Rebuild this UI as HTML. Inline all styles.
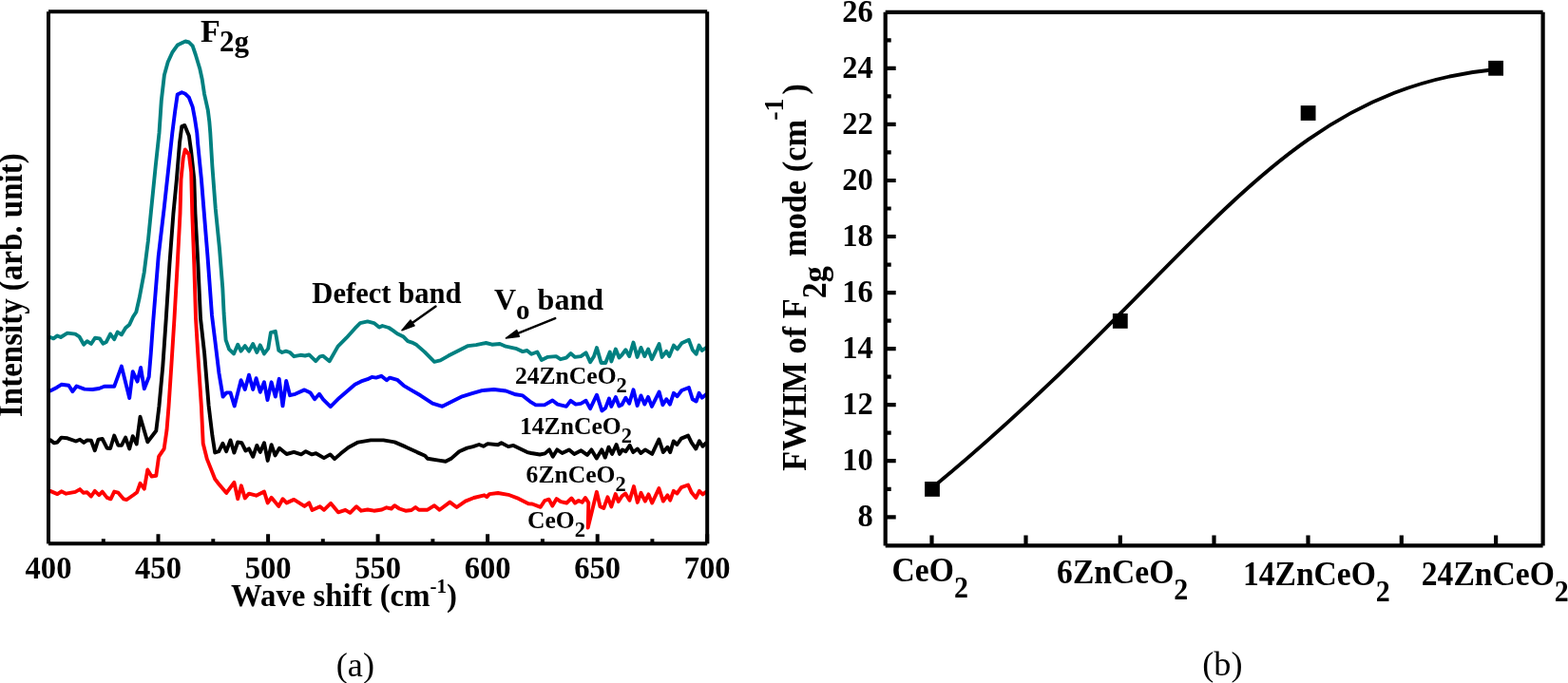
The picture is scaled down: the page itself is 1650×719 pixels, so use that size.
<!DOCTYPE html>
<html><head><meta charset="utf-8"><title>Raman spectra and FWHM</title>
<style>html,body{margin:0;padding:0;background:#fff;overflow:hidden}svg{display:block}</style>
</head><body>
<svg width="1650" height="719" viewBox="0 0 1650 719" font-family="'Liberation Serif','Times New Roman',serif">
<rect width="1650" height="719" fill="#fff"/>
<polyline points="51.0,355.5 52.8,355.0 56.3,356.4 60.4,353.4 63.9,355.0 70.9,350.6 79.2,351.6 83.4,354.3 88.2,362.7 91.7,359.2 95.9,362.0 100.1,355.7 104.9,356.4 108.4,361.7 111.9,359.9 116.1,351.6 120.2,357.1 123.7,349.5 127.9,352.3 132.1,345.3 136.2,341.8 140.0,333.5 143.3,328.5 146.7,313.5 151.7,286.8 155.9,253.4 159.0,222.0 163.7,175.1 167.5,140.0 169.8,106.0 172.9,79.0 176.7,65.2 181.3,55.2 186.7,47.6 191.3,45.3 195.1,43.5 198.9,44.5 202.7,48.4 205.8,57.5 210.4,72.8 212.7,83.5 215.0,98.8 218.8,116.0 220.3,127.9 221.3,140.0 223.4,175.1 226.8,220.0 231.0,261.7 234.3,303.5 235.6,330.0 237.6,357.8 241.1,367.6 246.0,372.4 250.2,362.7 253.6,369.6 257.8,364.1 262.0,369.6 266.2,362.0 270.3,371.0 273.8,363.4 278.0,372.4 282.2,366.9 284.9,350.2 289.8,348.8 293.3,368.9 296.8,371.0 300.9,369.6 305.1,371.0 309.3,375.2 316.2,373.8 321.1,374.5 325.3,373.4 332.2,380.2 336.7,375.3 340.0,374.7 346.7,380.2 355.6,364.6 364.5,355.7 373.5,345.7 379.0,340.1 386.8,338.4 393.5,340.1 399.1,344.6 402.4,343.0 409.1,345.0 413.5,347.9 418.0,351.3 424.7,354.6 429.1,359.1 433.6,360.6 438.4,363.1 446.7,370.4 457.1,380.8 463.4,379.4 471.8,374.6 482.2,369.3 492.6,364.1 501.0,363.1 511.4,361.0 517.7,362.7 526.0,362.0 532.3,364.7 542.7,366.8 550.0,370.1 554.6,369.0 559.2,372.8 565.3,370.5 569.9,379.0 576.0,375.9 585.2,375.1 589.8,378.2 595.9,376.7 600.5,372.1 605.1,375.9 611.2,375.1 616.6,371.3 621.1,381.3 625.0,375.1 628.0,366.0 632.6,382.0 637.2,382.0 641.8,370.5 643.3,380.5 647.9,367.5 651.5,376.5 654.5,373.5 658.4,368.2 662.2,375.1 666.5,360.6 670.6,375.9 674.5,365.9 678.3,375.1 682.1,367.5 685.9,378.2 693.6,362.1 696.6,375.9 701.2,369.8 704.3,375.1 708.9,363.6 712.7,367.5 717.3,361.3 724.9,357.8 728.7,368.2 732.6,372.8 735.6,363.6 738.7,369.0 743.3,365.9" fill="none" stroke="#008080" stroke-width="3.9" stroke-linejoin="round" stroke-linecap="round"/>
<polyline points="51.0,412.0 52.8,411.4 59.7,407.9 64.6,404.8 72.3,405.8 76.4,412.1 80.6,406.5 88.9,409.6 97.3,410.0 104.2,409.0 109.8,406.8 120.2,406.8 127.9,385.6 136.2,419.0 139.7,391.2 144.6,401.6 148.1,387.0 151.8,409.3 156.7,396.8 158.8,371.7 160.9,342.0 166.7,270.0 171.4,230.0 172.6,220.0 177.5,175.1 181.3,140.0 184.2,117.0 186.7,99.6 191.3,97.3 195.1,98.8 198.9,102.7 202.7,112.6 205.0,124.9 207.3,140.0 208.1,150.6 211.9,188.8 214.6,222.0 218.5,270.0 223.0,332.0 226.2,357.8 230.4,392.6 234.6,417.6 238.3,413.4 242.5,413.4 246.7,427.4 253.6,400.2 257.8,410.0 262.0,394.7 266.2,410.0 269.6,398.2 273.8,412.8 278.0,402.3 281.5,421.1 285.6,402.3 289.8,417.6 293.7,398.8 297.5,427.4 301.2,400.9 305.1,416.2 310.7,414.8 320.4,410.4 326.7,413.6 331.1,420.3 336.0,414.7 340.0,420.3 347.8,428.1 356.7,419.2 364.5,412.5 373.5,404.7 380.1,401.4 386.8,399.2 391.3,396.9 395.7,397.6 401.3,395.8 406.9,400.3 410.2,397.6 418.0,399.8 424.7,405.8 431.0,409.6 442.5,416.3 455.1,424.7 465.5,427.8 475.9,422.6 486.4,417.3 496.8,414.2 507.2,411.1 519.8,410.0 532.3,411.5 542.7,415.3 550.0,416.4 557.6,422.6 563.8,426.4 572.9,426.4 581.4,421.5 586.7,425.6 595.9,427.9 600.5,421.8 605.8,425.6 611.2,424.9 616.6,421.8 621.1,430.2 628.0,415.7 633.4,432.5 637.2,429.4 641.0,419.5 643.3,427.9 647.9,418.0 651.5,427.5 654.5,426.0 658.4,418.7 662.2,424.8 666.5,410.3 670.6,427.1 674.5,416.4 678.3,425.6 682.1,417.9 685.9,427.9 693.6,412.6 697.4,426.3 701.2,420.2 705.0,425.6 708.9,413.8 712.7,417.2 717.3,411.0 724.9,408.0 728.7,420.2 732.6,422.5 735.6,413.8 738.7,418.7 743.3,414.9" fill="none" stroke="#0000ff" stroke-width="3.9" stroke-linejoin="round" stroke-linecap="round"/>
<polyline points="51.0,463.5 52.8,463.1 57.0,466.4 60.4,465.5 64.6,460.6 70.9,461.3 79.9,464.5 84.1,462.7 88.2,465.9 91.7,463.4 95.9,463.7 99.8,474.2 103.5,462.7 107.7,462.0 112.6,471.7 116.1,472.0 120.2,458.5 124.4,468.7 127.9,468.9 132.1,460.6 136.2,472.4 139.7,459.2 143.7,467.5 147.5,438.8 155.3,465.3 164.3,453.5 167.4,428.0 171.3,385.6 174.8,335.0 178.4,278.4 182.4,225.0 185.9,188.8 189.0,150.6 191.3,133.0 194.3,131.9 198.9,143.0 201.2,159.8 204.3,188.8 205.5,225.0 208.4,278.4 211.0,335.0 215.1,371.7 219.6,427.0 223.4,458.4 226.2,476.5 230.3,475.2 234.4,466.8 238.2,475.2 242.5,463.4 246.4,476.6 250.2,465.5 254.3,466.2 258.5,474.5 262.0,472.4 266.2,480.8 270.3,468.9 273.8,475.9 278.0,466.2 281.7,484.9 285.6,468.2 289.5,479.4 294.0,471.7 301.6,478.0 309.3,475.9 316.9,478.4 321.8,475.2 328.3,478.4 332.5,477.2 340.9,482.1 347.5,478.4 352.1,483.1 358.4,477.6 366.7,470.9 376.8,465.6 390.1,463.4 403.5,463.4 415.2,465.4 426.8,470.4 439.0,476.1 447.2,479.7 449.9,482.8 461.6,484.6 468.9,485.7 475.2,482.4 483.3,475.2 491.5,471.6 497.8,470.1 504.1,468.0 508.7,469.8 513.2,467.1 524.0,468.3 527.6,466.2 534.9,470.1 540.3,468.9 547.5,472.5 554.8,476.1 559.0,477.0 568.1,478.5 573.5,477.4 578.0,473.4 581.7,480.7 586.2,473.4 591.6,477.0 598.9,473.4 604.3,477.9 611.5,474.3 617.9,478.9 622.4,473.4 627.8,482.5 633.2,473.4 636.8,481.6 640.5,470.7 644.1,477.9 648.6,468.0 652.0,477.9 655.0,473.4 658.5,475.2 662.7,468.9 666.3,476.1 670.8,472.5 674.4,477.0 678.9,473.4 686.2,477.9 693.4,462.5 697.9,476.1 702.4,470.7 705.2,476.1 708.8,464.4 712.4,468.0 716.9,461.6 724.1,458.6 727.8,466.2 732.3,472.5 735.9,464.4 739.5,469.8 743.1,466.2" fill="none" stroke="#000000" stroke-width="3.9" stroke-linejoin="round" stroke-linecap="round"/>
<polyline points="51.0,517.0 52.8,516.9 60.4,520.1 64.6,517.3 69.5,519.7 79.2,517.9 84.1,515.1 87.6,518.7 91.7,518.3 95.9,522.5 99.8,516.9 104.2,521.1 107.7,517.6 112.6,523.9 116.5,525.3 120.2,517.6 124.4,518.7 130.0,525.3 133.4,526.0 140.5,521.0 144.2,518.2 147.5,508.8 151.8,514.7 155.3,494.5 159.5,501.5 164.3,500.8 167.1,480.6 172.7,472.3 175.5,452.8 177.5,428.0 180.3,385.6 183.5,335.0 186.7,278.4 189.5,225.0 190.5,188.8 192.8,165.9 194.8,157.5 198.9,162.8 201.2,181.2 202.3,225.0 204.3,278.4 206.0,335.0 208.2,371.7 211.9,428.0 213.7,466.7 217.9,483.4 226.2,504.3 230.0,509.2 238.3,518.9 246.4,507.8 250.2,525.2 253.9,511.3 257.8,524.5 262.0,519.6 269.6,521.7 278.0,517.6 281.7,529.4 285.6,523.8 293.3,532.9 297.5,525.2 301.6,529.4 309.3,525.9 320.4,532.9 325.3,529.4 328.5,537.0 336.7,533.2 340.9,536.8 348.0,529.8 355.9,539.3 363.4,536.8 368.4,539.8 375.1,533.2 380.1,537.7 386.8,536.5 393.5,537.7 401.8,536.5 406.8,534.3 411.8,535.5 415.2,532.2 420.2,535.5 426.8,537.7 433.0,537.0 437.2,534.0 440.8,536.7 449.9,536.7 457.1,532.2 462.5,536.7 473.4,528.6 480.6,534.0 489.7,527.6 498.7,524.0 509.6,521.3 512.3,523.1 515.0,520.1 524.0,519.0 534.9,520.8 545.7,524.9 556.6,530.4 560.0,530.5 568.8,533.8 573.2,527.0 577.6,525.7 581.3,532.6 585.7,525.1 590.1,528.2 596.3,529.5 601.4,524.5 605.1,529.5 608.9,527.0 612.6,528.8 616.0,524.0 619.3,529.3 618.7,555.6 627.9,517.8 631.5,533.3 635.3,535.0 639.4,523.3 643.3,533.4 647.7,520.0 650.8,528.0 654.5,522.2 658.1,519.5 662.5,526.8 667.0,512.1 670.8,528.9 674.5,518.8 678.9,527.6 682.5,520.4 686.2,529.5 693.4,514.1 697.9,527.6 702.4,521.3 705.2,526.7 708.8,516.8 712.4,519.5 716.9,513.2 724.1,510.5 727.8,518.6 732.3,524.0 735.9,516.8 739.5,520.4 743.1,517.7" fill="none" stroke="#ff0000" stroke-width="3.9" stroke-linejoin="round" stroke-linecap="round"/>
<path d="M51,12.2 H744.2 M744.2,12.2 V572.2 M744.2,572.2 H51 M51,572.2 V12.2" fill="none" stroke="#000" stroke-width="4" stroke-linecap="butt"/>
<path d="M51.0,572.2 V562.2 M166.5,572.2 V562.2 M282.1,572.2 V562.2 M397.6,572.2 V562.2 M513.1,572.2 V562.2 M628.7,572.2 V562.2 M744.2,572.2 V562.2 M108.8,572.2 V567.2 M224.3,572.2 V567.2 M339.8,572.2 V567.2 M455.4,572.2 V567.2 M570.9,572.2 V567.2 M686.4,572.2 V567.2" stroke="#000" stroke-width="4" fill="none"/>
<text transform="translate(51.0,609.3) scale(1,1.04)" font-size="32.6" font-weight="bold" text-anchor="middle">400</text>
<text transform="translate(166.5,609.3) scale(1,1.04)" font-size="32.6" font-weight="bold" text-anchor="middle">450</text>
<text transform="translate(282.1,609.3) scale(1,1.04)" font-size="32.6" font-weight="bold" text-anchor="middle">500</text>
<text transform="translate(397.6,609.3) scale(1,1.04)" font-size="32.6" font-weight="bold" text-anchor="middle">550</text>
<text transform="translate(513.1,609.3) scale(1,1.04)" font-size="32.6" font-weight="bold" text-anchor="middle">600</text>
<text transform="translate(628.7,609.3) scale(1,1.04)" font-size="32.6" font-weight="bold" text-anchor="middle">650</text>
<text transform="translate(744.2,609.3) scale(1,1.04)" font-size="32.6" font-weight="bold" text-anchor="middle">700</text>
<text transform="translate(243.0,638.0) scale(1,1.04)" font-size="32.8" font-weight="bold">Wave shift (cm<tspan font-size="21" dy="-13.46">-1</tspan><tspan dy="13.46">)</tspan></text>
<text transform="translate(23.3,439.0) rotate(-90) scale(1,1.07)" font-size="33" font-weight="bold">Intensity (arb. unit)</text>
<text transform="translate(211.0,43.8)" font-size="34" font-weight="bold">F<tspan font-size="31" dx="-0.8" dy="10.00">2g</tspan></text>
<text transform="translate(328.3,318.8)" font-size="30.6" font-weight="bold">Defect band</text>
<text transform="translate(520.0,325.6)" font-size="32" font-weight="bold">V<tspan font-size="29" dy="10.5">o</tspan><tspan dy="-10.5"> band</tspan></text>
<line x1="458.5" y1="322.6" x2="432.4" y2="341.1" stroke="#000" stroke-width="2.5" stroke-linecap="round"/><polygon points="422.9,347.8 432.0,337.0 436.1,342.9" fill="#000" stroke="#000" stroke-width="1.4" stroke-linejoin="round"/>
<line x1="584.2" y1="335.1" x2="543.2" y2="351.6" stroke="#000" stroke-width="2.5" stroke-linecap="round"/><polygon points="532.3,356.0 543.7,347.5 546.4,354.2" fill="#000" stroke="#000" stroke-width="1.4" stroke-linejoin="round"/>
<text transform="translate(541.9,404.1)" font-size="25.6" font-weight="bold">24ZnCeO<tspan font-size="22.5" dy="9">2</tspan></text>
<text transform="translate(547.0,457.2)" font-size="25.6" font-weight="bold">14ZnCeO<tspan font-size="22.5" dy="9">2</tspan></text>
<text transform="translate(553.6,507.8)" font-size="25.6" font-weight="bold">6ZnCeO<tspan font-size="22.5" dy="9">2</tspan></text>
<text transform="translate(554.9,556.4)" font-size="25.6" font-weight="bold">CeO<tspan font-size="22.5" dy="9">2</tspan></text>
<text x="353.8" y="711.5" font-size="36.2">(a)</text>
<path d="M981,513.4 C1256.9,287 1337.9,95.6 1574,73" fill="none" stroke="#000" stroke-width="3.8"/>
<rect x="973.1" y="507.0" width="15.8" height="15.8" fill="#000"/>
<rect x="1170.9" y="330.0" width="15.8" height="15.8" fill="#000"/>
<rect x="1368.7" y="111.1" width="15.8" height="15.8" fill="#000"/>
<rect x="1566.2" y="63.9" width="15.8" height="15.8" fill="#000"/>
<path d="M931.7,12.8 H1623.6 M1623.6,12.8 V574.4 M1623.6,574.4 H931.7 M931.7,574.4 V12.8" fill="none" stroke="#000" stroke-width="4.2" stroke-linecap="butt"/>
<path d="M931.7,544.3 H942.7 M931.7,485.2 H942.7 M931.7,426.2 H942.7 M931.7,367.1 H942.7 M931.7,308.1 H942.7 M931.7,249.0 H942.7 M931.7,190.0 H942.7 M931.7,130.9 H942.7 M931.7,71.9 H942.7 M931.7,514.8 H937.7 M931.7,455.7 H937.7 M931.7,396.7 H937.7 M931.7,337.6 H937.7 M931.7,278.6 H937.7 M931.7,219.5 H937.7 M931.7,160.4 H937.7 M931.7,101.4 H937.7 M931.7,42.3 H937.7 M980.5,574.4 V563.4 M1079.5,574.4 V563.4 M1178.8,574.4 V563.4 M1277.5,574.4 V563.4 M1376.5,574.4 V563.4 M1474.8,574.4 V563.4 M1574.1,574.4 V563.4" stroke="#000" stroke-width="4.2" fill="none"/>
<text transform="translate(918.8,554.3) scale(1,1.04)" font-size="32.5" font-weight="bold" text-anchor="end">8</text>
<text transform="translate(918.8,495.2) scale(1,1.04)" font-size="32.5" font-weight="bold" text-anchor="end">10</text>
<text transform="translate(918.8,436.2) scale(1,1.04)" font-size="32.5" font-weight="bold" text-anchor="end">12</text>
<text transform="translate(918.8,377.1) scale(1,1.04)" font-size="32.5" font-weight="bold" text-anchor="end">14</text>
<text transform="translate(918.8,318.1) scale(1,1.04)" font-size="32.5" font-weight="bold" text-anchor="end">16</text>
<text transform="translate(918.8,259.0) scale(1,1.04)" font-size="32.5" font-weight="bold" text-anchor="end">18</text>
<text transform="translate(918.8,200.0) scale(1,1.04)" font-size="32.5" font-weight="bold" text-anchor="end">20</text>
<text transform="translate(918.8,140.9) scale(1,1.04)" font-size="32.5" font-weight="bold" text-anchor="end">22</text>
<text transform="translate(918.8,81.9) scale(1,1.04)" font-size="32.5" font-weight="bold" text-anchor="end">24</text>
<text transform="translate(918.8,22.8) scale(1,1.04)" font-size="32.5" font-weight="bold" text-anchor="end">26</text>
<text transform="translate(938.6,612.1) scale(1,1.04)" font-size="33.6" font-weight="bold">CeO<tspan font-size="30" dy="16.35">2</tspan></text>
<text transform="translate(1112.1,613.8) scale(1,1.04)" font-size="33.6" font-weight="bold">6ZnCeO<tspan font-size="30" dy="16.35">2</tspan></text>
<text transform="translate(1307.9,616.3) scale(1,1.04)" font-size="33.6" font-weight="bold">14ZnCeO<tspan font-size="30" dy="16.35">2</tspan></text>
<text transform="translate(1495.8,616.3) scale(1,1.04)" font-size="33.6" font-weight="bold">24ZnCeO<tspan font-size="30" dy="16.35">2</tspan></text>
<g transform="translate(847.7,495.7) rotate(-90) scale(1,1.04)" font-weight="bold"><text x="0" y="0" font-size="34.4">FWHM of F</text><text x="181.4" y="20.77" font-size="34">2g</text><text x="225.4" y="0" font-size="34.5">mode (cm</text><text x="369" y="-22.88" font-size="28">-1</text><text x="396.2" y="0" font-size="34">)</text></g>
<text x="1265.3" y="711.2" font-size="36.2">(b)</text>
</svg>
</body></html>
